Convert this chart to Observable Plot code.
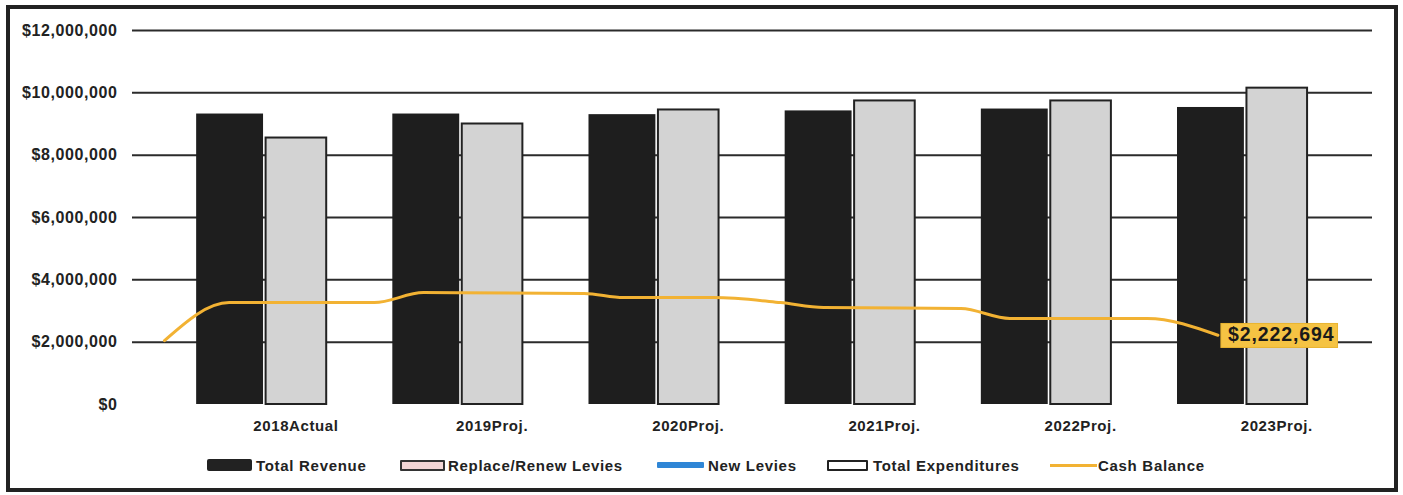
<!DOCTYPE html>
<html><head><meta charset="utf-8">
<script src="https://cdn.jsdelivr.net/npm/d3@7"></script>
<script src="https://cdn.jsdelivr.net/npm/@observablehq/plot@0.6"></script>
<style>
body{margin:0;background:#fff;}
#wrap{position:relative;width:1403px;height:495px;overflow:hidden;font-family:"Liberation Sans",Arial,sans-serif;}
#chart{position:absolute;left:0;top:0;}
#frame{position:absolute;left:6px;top:5px;width:1392px;height:487px;box-sizing:border-box;border:4px solid #222;pointer-events:none;}
#legend{position:absolute;left:0;top:456px;width:1403px;height:18px;}
.item{position:absolute;top:0;height:18px;display:flex;align-items:center;font-weight:bold;font-size:15px;letter-spacing:0.7px;color:#222;white-space:nowrap;}
.sw{display:inline-block;box-sizing:border-box;flex:none;}
</style></head><body>
<div id="wrap"><div id="chart"></div><div id="legend"></div><div id="frame"></div></div>
<script>
// ---- data ----
const categories = ["2018Actual", "2019Proj.", "2020Proj.", "2021Proj.", "2022Proj.", "2023Proj."];
const totalRevenue = [9320000, 9320000, 9300000, 9420000, 9480000, 9530000];
const totalExpenditures = [8550000, 9000000, 9450000, 9740000, 9740000, 10150000];
// cash balance line: position along the category axis (category index units) and value
const cashPosition = [-0.5, -0.17, 0.57, 0.82, 1.64, 1.84, 2.30, 2.64, 2.86, 3.56, 3.81, 4.51, 4.87];
const cashBalance = [2050000, 3270000, 3270000, 3590000, 3560000, 3430000, 3430000, 3270000, 3110000, 3080000, 2760000, 2760000, 2222694];
const yTicks = [0, 2000000, 4000000, 6000000, 8000000, 10000000, 12000000];
const seriesNames = ["Total Revenue", "Replace/Renew Levies", "New Levies", "Total Expenditures", "Cash Balance"];

// ---- tables ----
const rows = categories.map((c, i) => ({i, c, rev: totalRevenue[i], exp: totalExpenditures[i]}));
const cash = cashPosition.map((p, i) => ({pos: p, val: cashBalance[i]}));
const money = d3.format("$,.0f");

const plot = Plot.plot({
  width: 1403, height: 445,
  marginLeft: 132, marginRight: 31, marginTop: 30, marginBottom: 41,
  x: {type: "linear", domain: [-0.663, 5.658], axis: null},
  y: {domain: [0, 12000000], axis: null},
  style: {fontFamily: "'Liberation Sans', Arial, sans-serif", background: "transparent"},
  marks: [
    Plot.ruleY(yTicks.filter(d => d > 0), {stroke: "#2b2b2b", strokeWidth: 2}),
    Plot.axisY(yTicks, {tickSize: 0, tickPadding: 15, tickFormat: money, fontSize: 16, fontWeight: "bold", fill: "#222", className: "yax"}),
    Plot.rect(rows, {x1: d => d.i - 0.336, x2: d => d.i + 0.005, y1: d => 0, y2: "rev", fill: "#1e1e1e"}),
    Plot.rect(rows, {x1: d => d.i + 0.018, x2: d => d.i + 0.327, y1: d => 0, y2: "exp", fill: "#d3d3d3", stroke: "#222", strokeWidth: 2}),
    Plot.line(cash, {x: "pos", y: "val", stroke: "#f2b233", strokeWidth: 3, curve: "monotone-x"}),
    Plot.text(rows, {x: d => d.i + 0.17, y: d => 0, text: "c", dy: 22, fontSize: 15, fontWeight: "bold", fill: "#222", className: "xlab"}),
    Plot.text([cash[cash.length - 1]], {x: "pos", y: "val", text: d => money(d.val), textAnchor: "start", dx: 10, fontSize: 19.5, fontWeight: "bold", fill: "#1a1a1a", className: "cashlab"})
  ]
});
document.getElementById("chart").appendChild(plot);
d3.select(plot).selectAll(".yax text").style("letter-spacing", "0.6px");
d3.select(plot).selectAll(".xlab text").style("letter-spacing", "0.6px");
d3.select(plot).selectAll(".cashlab text").style("letter-spacing", "0.9px").each(function() {
  const b = this.getBBox();
  const ctm = this.getAttribute("transform");
  d3.select(this.parentNode).insert("rect", () => this)
    .attr("transform", ctm)
    .attr("x", b.x - 7).attr("y", b.y).attr("width", b.width + 10).attr("height", b.height + 2)
    .attr("fill", "#f5c343").attr("stroke", "#e9b430").attr("stroke-width", 1);
});

// ---- legend (HTML, below the svg) ----
const legendStyle = [
  {left: 207, w: 45, h: 12, bg: "#222", border: "none", gap: 4, radius: 2},
  {left: 400, w: 45, h: 11, bg: "#f3d6d6", border: "2px solid #333", gap: 3, radius: 1},
  {left: 657, w: 47, h: 6, bg: "#2f86d6", border: "none", gap: 4, radius: 1},
  {left: 827, w: 41, h: 11, bg: "#fff", border: "2.5px solid #222", gap: 5, radius: 1},
  {left: 1050, w: 47, h: 3, bg: "#f2b233", border: "none", gap: 1, radius: 0}
];
const legend = d3.select("#legend");
seriesNames.forEach((name, k) => {
  const s = legendStyle[k];
  const it = legend.append("div").attr("class", "item").style("left", s.left + "px");
  it.append("span").attr("class", "sw")
    .style("width", s.w + "px").style("height", s.h + "px")
    .style("background", s.bg).style("border", s.border)
    .style("border-radius", s.radius + "px").style("margin-right", s.gap + "px");
  it.append("span").text(name);
});
</script>
</body></html>
